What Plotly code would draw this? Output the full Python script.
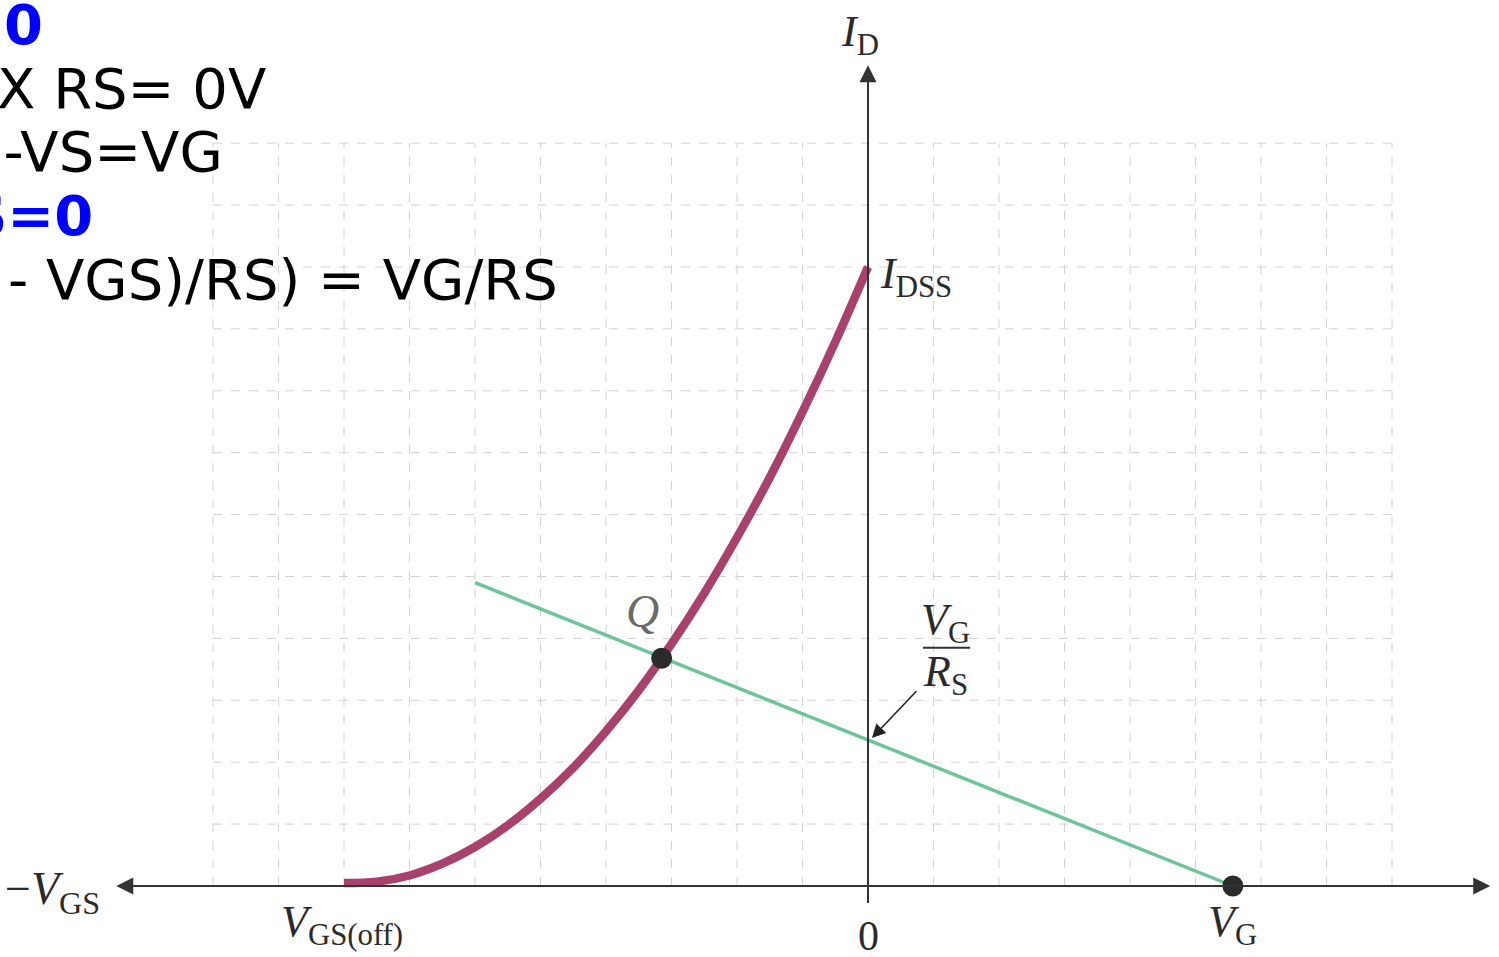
import plotly.graph_objects as go

# ---- data (grid units) ----
vgs_curve = [-8.0, -7.5, -7.0, -6.5, -6.0, -5.5, -5.0, -4.5, -4.0, -3.5, -3.0,
             -2.5, -2.0, -1.5, -1.0, -0.5, 0.0]
id_curve = [0.05, 0.07, 0.17, 0.36, 0.63, 0.98, 1.41, 1.91, 2.50, 3.16, 3.91,
            4.73, 5.63, 6.60, 7.66, 8.79, 10.0]
bias_vgs = [-6.0, 0.0, 5.57]
bias_id = [4.90, 2.36, 0.0]
q_point = [-3.15, 3.68]
vg_point = [5.57, 0.0]
x_grid = [-10, -9, -8, -7, -6, -5, -4, -3, -2, -1, 1, 2, 3, 4, 5, 6, 7, 8]
y_grid = [1, 2, 3, 4, 5, 6, 7, 8, 9, 10, 11, 12]
text_lines = ["=0", "X RS= 0V", "G-VS=VG", "S=0", "- VGS)/RS) = VG/RS"]
text_bold = [True, False, False, True, False]

W, H = 1499, 957
X0, SX = 868, 65.5
Y0, SY = 886, 61.9
xr = [(0 - X0) / SX, (W - X0) / SX]
yr = [(Y0 - H) / SY, Y0 / SY]

fig = go.Figure()

shapes = []
for xg in x_grid:
    shapes.append(dict(type="line", x0=xg, x1=xg, y0=0, y1=12, xref="x", yref="y",
                       line=dict(color="#d2d2d2", width=1, dash="dash"), layer="below"))
for yg in y_grid:
    shapes.append(dict(type="line", x0=-10, x1=8, y0=yg, y1=yg, xref="x", yref="y",
                       line=dict(color="#d2d2d2", width=1, dash="dash"), layer="below"))
# fraction bar VG/RS
shapes.append(dict(type="line", x0=0.84, x1=1.56, y0=3.85, y1=3.85, xref="x", yref="y",
                   line=dict(color="#333333", width=2)))

fig.add_trace(go.Scatter(x=bias_vgs, y=bias_id, mode="lines",
                         line=dict(color="#6cc59a", width=3.5), hoverinfo="skip"))
fig.add_trace(go.Scatter(x=vgs_curve, y=id_curve, mode="lines",
                         line=dict(color="#a8416b", width=8.5, shape="spline"), hoverinfo="skip"))
fig.add_trace(go.Scatter(x=[q_point[0], vg_point[0]], y=[q_point[1], vg_point[1]], mode="markers",
                         marker=dict(color="#2b2b2b", size=21), hoverinfo="skip"))

ann = []
# axes with arrowheads
ann.append(dict(x=9.5, y=0, ax=-11.5, ay=0, xref="x", yref="y", axref="x", ayref="y",
                text="", showarrow=True, arrowhead=2, arrowside="end+start",
                arrowwidth=2, arrowsize=1.7, arrowcolor="#333333"))
ann.append(dict(x=0, y=13.26, ax=0, ay=-0.3, xref="x", yref="y", axref="x", ayref="y",
                text="", showarrow=True, arrowhead=2, arrowwidth=2, arrowsize=1.7,
                arrowcolor="#333333"))
# VG/RS pointer
ann.append(dict(x=0.06, y=2.39, ax=0.76, ay=3.17, xref="x", yref="y", axref="x", ayref="y",
                text="", showarrow=True, arrowhead=2, arrowwidth=1.6, arrowsize=1.7,
                arrowcolor="#222222"))

labels = [
    ("<i>I</i><sub>D</sub>", -0.12, 13.75, "center", 44),
    ("<i>I</i><sub>DSS</sub>", 0.15, 9.85, "left", 44),
    ("<i>V</i><sub>G</sub>", 1.18, 4.25, "center", 44),
    ("<i>R</i><sub>S</sub>", 1.18, 3.42, "center", 44),
    ("\u2212<i>V</i><sub>GS</sub>", -11.7, -0.1, "right", 46),
    ("<i>V</i><sub>GS(off)</sub>", -9.0, -0.62, "left", 44),
    ("0", 0.0, -0.8, "center", 42),
    ("<i>V</i><sub>G</sub>", 5.56, -0.62, "center", 44),
]
for t, x, y, xa, fs in labels:
    ann.append(dict(x=x, y=y, xref="x", yref="y", text=t, showarrow=False,
                    xanchor=xa, yanchor="middle",
                    font=dict(family="Liberation Serif", size=fs, color="#2a2a2a")))
ann.append(dict(x=-3.44, y=4.43, xref="x", yref="y", text="<i>Q</i>", showarrow=False,
                xanchor="center", yanchor="middle",
                font=dict(family="Liberation Serif", size=46, color="#6a6a6a")))

# top-left statement text (clipped at the left edge, as in the picture)
right_px = [45, 268, 225, 95, 560]
mid_px = [24, 88, 151, 215, 279]
for t, b, rx, my in zip(text_lines, text_bold, right_px, mid_px):
    ann.append(dict(x=rx / W, y=1 - my / H, xref="paper", yref="paper",
                    text=f"<b>{t}</b>" if b else t, showarrow=False,
                    xanchor="right", yanchor="middle",
                    font=dict(family="DejaVu Sans", size=56,
                              color="#0000ff" if b else "#000000")))

fig.update_layout(
    width=W, height=H, margin=dict(l=0, r=0, t=0, b=0),
    paper_bgcolor="white", plot_bgcolor="white", showlegend=False,
    xaxis=dict(range=xr, visible=False, fixedrange=True),
    yaxis=dict(range=yr, visible=False, fixedrange=True),
    shapes=shapes, annotations=ann,
)
fig.write_html("out.html", config={"displayModeBar": False},
               post_script="document.body.style.margin='0';")
